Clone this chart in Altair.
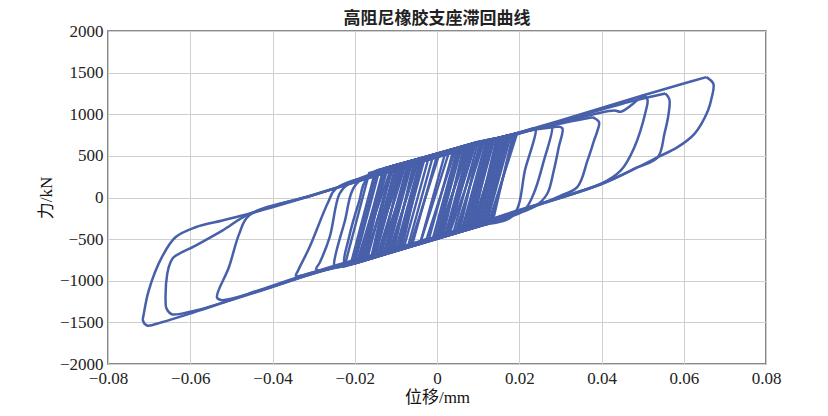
import altair as alt
import pandas as pd

TITLE = "高阻尼橡胶支座滞回曲线"
X_TITLE = "位移/mm"
Y_TITLE = "力/kN"
X_TICKS = [-0.08, -0.06, -0.04, -0.02, 0.0, 0.02, 0.04, 0.06, 0.08]
Y_TICKS = [-2000, -1500, -1000, -500, 0, 500, 1000, 1500, 2000]

# ---- large loops (displacement, force) ----
LOOP_OUTER = [(0.0655, 1446), (0.0672, 1366), (0.0668, 1200), (0.0659, 1046), (0.0626, 765),
              (0.0585, 605), (0.0537, 485), (0.0488, 364), (0.0402, 165), (0.02, -160), (0.0, -468),
              (-0.0261, -838), (-0.04, -1058), (-0.0506, -1238), (-0.0603, -1398), (-0.0669, -1498),
              (-0.0705, -1538), (-0.0715, -1480), (-0.0713, -1400), (-0.0701, -1118), (-0.0669, -717),
              (-0.0636, -477), (-0.0587, -357), (-0.0522, -276), (-0.0457, -196), (-0.03, 30),
              (0.0, 490), (0.03, 925), (0.05, 1225), (0.06, 1370), (0.0655, 1446)]
LOOP_056 = [(0.0555, 1250), (0.0565, 1180), (0.0563, 1000), (0.0553, 765), (0.0537, 485), (0.048, 345),
            (0.0402, 168), (0.02, -155), (0.0, -472), (-0.03, -915), (-0.05, -1232), (-0.06, -1372),
            (-0.0645, -1402), (-0.0658, -1330), (-0.066, -1238), (-0.0656, -917), (-0.0648, -777),
            (-0.064, -717), (-0.0587, -577), (-0.0522, -397), (-0.0457, -200), (-0.03, 35), (0.0, 485),
            (0.03, 915), (0.048, 1165), (0.0555, 1250)]
LOOP_051 = [(0.0505, 1225), (0.0512, 1170), (0.0508, 1046), (0.048, 605), (0.0447, 325), (0.0402, 172),
            (0.02, -150), (0.0, -470), (-0.03, -912), (-0.045, -1148), (-0.0525, -1232), (-0.0535, -1200),
            (-0.0506, -838), (-0.0481, -437), (-0.0457, -216), (-0.03, 30), (0.0, 482), (0.03, 900),
            (0.0431, 1046), (0.0447, 1030), (0.0492, 1186), (0.0505, 1225)]
LOOP_039 = [(0.0378, 965), (0.0394, 905), (0.039, 800), (0.0382, 685), (0.0366, 445), (0.0341, 124),
            (0.03, 20), (0.02, -172), (0.0, -474), (-0.02, -782), (-0.03, -898), (-0.0343, -942),
            (-0.0338, -880), (-0.031, -597), (-0.0265, -60), (-0.0245, 110), (-0.01, 345), (0.0, 492),
            (0.02, 778), (0.033, 918), (0.0378, 965)]
LOOP_030 = [(0.0295, 852), (0.0305, 830), (0.0296, 605), (0.0284, 325), (0.0268, 45), (0.024, -100),
            (0.01, -336), (0.0, -473), (-0.02, -786), (-0.0288, -878), (-0.0294, -860), (-0.0285, -780),
            (-0.0261, -477), (-0.0237, 45), (-0.0215, 165), (-0.01, 372), (0.0, 496), (0.02, 779),
            (0.0295, 852)]
LOOP_028 = [(0.0275, 868), (0.028, 845), (0.026, 445), (0.0235, 45), (0.021, -160), (0.01, -341),
            (0.0, -476), (-0.021, -800), (-0.0225, -792), (-0.0215, -500), (-0.019, -60), (-0.0168, 232),
            (0.0, 500), (0.02, 777), (0.0275, 868)]
LOOP_024 = [(0.0235, 832), (0.024, 815), (0.0215, 350), (0.0185, -215), (0.01, -343), (0.0, -478),
            (-0.02, -788), (-0.0245, -836), (-0.025, -815), (-0.0225, -300), (-0.0195, 170), (-0.01, 380),
            (0.0, 502), (0.02, 780), (0.0235, 832)]

# ---- dense small loops in the centre ----
CLUSTER = [
    [(0.019, 768), (0.013, -306), (-0.021, -806), (-0.015, 320), (0.019, 768)],
    [(0.017, 744), (0.011, -332), (-0.019, -774), (-0.013, 348), (0.017, 744)],
    [(0.015, 720), (0.009, -358), (-0.018, -758), (-0.012, 362), (0.015, 720)],
    [(0.014, 710), (0.008, -371), (-0.016, -726), (-0.010, 390), (0.014, 710)],
    [(0.013, 700), (0.007, -384), (-0.015, -710), (-0.009, 402), (0.013, 700)],
    [(0.012, 690), (0.006, -397), (-0.013, -676), (-0.007, 426), (0.012, 690)],
    [(0.011, 680), (0.005, -410), (-0.012, -659), (-0.006, 438), (0.011, 680)],
    [(0.010, 670), (0.004, -423), (-0.011, -642), (-0.005, 450), (0.010, 670)],
    [(0.009, 654), (0.003, -437), (-0.010, -625), (-0.004, 461), (0.009, 654)],
    [(0.008, 638), (0.002, -450), (-0.009, -610), (-0.003, 472), (0.008, 638)],
    [(0.007, 622), (0.001, -464), (-0.008, -595), (-0.002, 483), (0.007, 622)],
    [(0.006, 606), (0.000, -477), (-0.007, -580), (-0.001, 494), (0.006, 606)],
    [(0.005, 590), (-0.001, -491), (-0.006, -565), (0.000, 505), (0.005, 590)],
    [(0.0125, 695), (0.0065, -390), (-0.017, -742), (-0.011, 376), (0.0125, 695)],
    [(0.0155, 726), (0.0095, -352), (-0.014, -693), (-0.008, 414), (0.0155, 726)],
    [(0.016, 732), (0.010, -345), (-0.020, -790), (-0.014, 334), (0.016, 732)],
    [(0.004, 573), (-0.002, -506), (-0.004, -535), (0.002, 539), (0.004, 573)],
    [(0.0135, 705), (0.0085, -364), (-0.0105, -633), (-0.0055, 444), (0.0135, 705)],
    [(0.0095, 662), (0.0025, -443), (-0.0145, -701), (-0.0075, 420), (0.0095, 662)],
    [(0.018, 756), (0.012, -319), (-0.0225, -830), (-0.0165, 296), (0.018, 756)],
    [(0.014, 710), (0.006, -397), (-0.019, -774), (-0.011, 376), (0.014, 710)],
    [(0.011, 680), (0.003, -437), (-0.016, -726), (-0.008, 414), (0.011, 680)],
    [(0.008, 638), (0.000, -477), (-0.014, -693), (-0.006, 438), (0.008, 638)],
    [(0.017, 744), (0.012, -319), (-0.012, -659), (-0.007, 426), (0.017, 744)],
    [(0.0145, 715), (0.0095, -352), (-0.009, -610), (-0.004, 461), (0.0145, 715)],
    [(0.0105, 675), (0.0055, -404), (-0.0175, -750), (-0.0125, 355), (0.0105, 675)],
    [(0.0065, 614), (0.0015, -457), (-0.0135, -685), (-0.0085, 408), (0.0065, 614)],
    [(0.0185, 762), (0.0135, -300), (-0.016, -726), (-0.011, 376), (0.0185, 762)],
    [(0.0115, 685), (0.0045, -417), (-0.0195, -782), (-0.0125, 355), (0.0115, 685)],
    [(0.0075, 630), (0.0005, -470), (-0.0115, -650), (-0.0045, 455), (0.0075, 630)],
    [(0.003, 556), (-0.004, -535), (-0.0155, -718), (-0.0085, 408), (0.003, 556)],
    [(0.0155, 726), (0.0085, -364), (-0.0065, -572), (0.0005, 513), (0.0155, 726)],
    [(0.0165, 738), (0.0105, -339), (-0.0155, -718), (-0.0095, 396), (0.0165, 738)],
    [(0.0135, 705), (0.0075, -378), (-0.0185, -766), (-0.0125, 355), (0.0135, 705)],
    [(0.0085, 646), (0.0025, -443), (-0.0125, -668), (-0.0065, 432), (0.0085, 646)],
    [(0.0055, 598), (-0.0005, -484), (-0.0095, -618), (-0.0035, 466), (0.0055, 598)],
    [(0.0175, 750), (0.0115, -326), (-0.0205, -798), (-0.0145, 327), (0.0175, 750)],
    [(0.0125, 695), (0.0075, -378), (-0.0085, -602), (-0.0035, 466), (0.0125, 695)],
    [(0.0045, 581), (-0.0025, -498), (-0.0115, -650), (-0.0045, 455), (0.0045, 581)],
    [(0.0195, 774), (0.0125, -312), (-0.0175, -750), (-0.0105, 383), (0.0195, 774)],
]

BIG = {"outer": LOOP_OUTER, "l056": LOOP_056, "l051": LOOP_051, "l039": LOOP_039,
       "l030": LOOP_030, "l028": LOOP_028, "l024": LOOP_024}

rows = []
for name, pts in BIG.items():
    for i, (x, y) in enumerate(pts):
        rows.append({"loop": name, "i": i, "x": x, "y": y, "kind": "big"})
for k, pts in enumerate(CLUSTER):
    for i, (x, y) in enumerate(pts):
        rows.append({"loop": f"c{k}", "i": i, "x": x, "y": y, "kind": "small"})
df = pd.DataFrame(rows)

BLUE = "#4860aa"
LABEL_FONT = "Liberation Serif"
TITLE_FONT = "Liberation Serif, Noto Sans CJK SC"

x_enc = alt.X("x:Q", scale=alt.Scale(domain=[-0.08, 0.08], nice=False, zero=False),
              axis=alt.Axis(values=X_TICKS, format=".2~f", title=X_TITLE))
y_enc = alt.Y("y:Q", scale=alt.Scale(domain=[-2000, 2000], nice=False, zero=False),
              axis=alt.Axis(values=Y_TICKS, format="d", title=Y_TITLE))

base = alt.Chart(df)
small = base.transform_filter(alt.datum.kind == "small").mark_line(
    color=BLUE, strokeWidth=2.4, interpolate="linear", clip=True
).encode(x=x_enc, y=y_enc, detail="loop:N", order="i:Q")
big = base.transform_filter(alt.datum.kind == "big").mark_line(
    color=BLUE, strokeWidth=2.5, interpolate="catmull-rom", clip=True
).encode(x=x_enc, y=y_enc, detail="loop:N", order="i:Q")

chart = alt.layer(small, big).properties(
    width=658, height=333,
    title=alt.TitleParams(TITLE, font="Noto Sans CJK SC", fontSize=17, fontWeight="bold",
                          color="#222", anchor="middle", offset=2, dy=8),
    padding={"left": 100, "top": 23, "right": 54, "bottom": 44},
    autosize=alt.AutoSizeParams(type="none"),
).configure_view(
    stroke="#666", strokeWidth=1.6
).configure_axis(
    grid=True, gridColor="#cfcfcf", gridWidth=1, domain=False, ticks=False,
    labelFont=LABEL_FONT, labelFontSize=17, labelColor="#222", labelPadding=5,
    titleFont=TITLE_FONT, titleFontSize=17, titleFontWeight="normal", titleColor="#111",
).configure_axisX(titlePadding=3, labelPadding=6, labelFlush=False).configure_axisY(titlePadding=4)

chart.save("out.html", embed_options={"renderer": "svg", "actions": False})
